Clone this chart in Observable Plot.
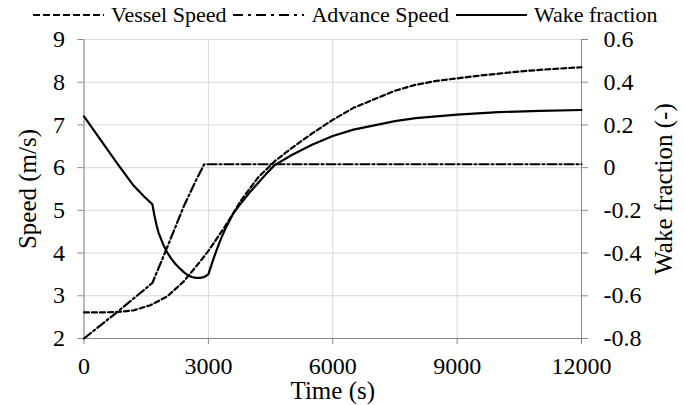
<!DOCTYPE html>
<html><head><meta charset="utf-8">
<script src="https://cdn.jsdelivr.net/npm/d3@7"></script>
<script src="https://cdn.jsdelivr.net/npm/@observablehq/plot@0.6"></script>
<style>
body{margin:0;background:#fff}
#wrap{position:relative;width:684px;height:405px}
#legend{position:absolute;left:33px;top:0px;height:30px;display:flex;align-items:center;font-family:"Liberation Serif",serif;font-size:22px;color:#000;white-space:nowrap}
#legend svg{margin-right:7px}
#legend span{margin-right:7px;font-family:"Liberation Serif",serif}
</style></head><body><div id="wrap"><div id="legend"></div></div>
<script>
// ---- data ----
const vesselTime  = [0, 400, 800, 1200, 1600, 2000, 2400, 2800, 3000, 3400, 3800, 4200, 4600, 5000, 5500, 6000, 6500, 7000, 7500, 8000, 8500, 9000, 9500, 10000, 10500, 11000, 11500, 12000];
const vesselSpeed = [2.61, 2.61, 2.62, 2.66, 2.78, 2.98, 3.33, 3.80, 4.05, 4.62, 5.25, 5.77, 6.15, 6.45, 6.80, 7.12, 7.40, 7.60, 7.80, 7.94, 8.03, 8.09, 8.15, 8.20, 8.25, 8.29, 8.32, 8.35];
const advanceTime  = [0, 800, 1650, 2000, 2400, 2700, 2900, 12000];
const advanceSpeed = [2.0, 2.62, 3.30, 4.12, 5.08, 5.70, 6.08, 6.08];
const wakeTime = [0, 400, 800, 1200, 1450, 1650, 1700, 1750, 1800, 1900, 2000, 2100, 2200, 2300, 2400, 2500, 2600, 2700, 2800, 2900, 3000, 3100, 3200, 3300, 3400, 3600, 3800, 4000, 4200, 4400, 4600, 5000, 5500, 6000, 6500, 7000, 7500, 8000, 9000, 10000, 11000, 12000];
const wakeFraction = [0.24, 0.13, 0.02, -0.085, -0.135, -0.172, -0.225, -0.27, -0.305, -0.355, -0.395, -0.425, -0.45, -0.47, -0.488, -0.503, -0.512, -0.516, -0.516, -0.512, -0.50, -0.44, -0.385, -0.335, -0.29, -0.215, -0.163, -0.115, -0.072, -0.028, 0.012, 0.058, 0.107, 0.148, 0.178, 0.198, 0.218, 0.232, 0.248, 0.26, 0.266, 0.27];
const timeTicks  = [0, 3000, 6000, 9000, 12000];
const speedTicks = [2, 3, 4, 5, 6, 7, 8, 9];
const wakeTicks  = [-0.8, -0.6, -0.4, -0.2, 0, 0.2, 0.4, 0.6];
const seriesNames = ["Vessel Speed", "Advance Speed", "Wake fraction"];
const axisTitles = {x: "Time (s)", yLeft: "Speed (m/s)", yRight: "Wake fraction (-)"};

// map wake fraction (right axis) onto the speed scale (left axis)
const wakeToSpeed = w => speedTicks[0] + (w - wakeTicks[0]) * (speedTicks.length - 1) / (wakeTicks[wakeTicks.length-1] - wakeTicks[0]);
const fmtWake = w => (Math.abs(w) < 1e-9 ? "0" : (w < 0 ? "-" : "") + Math.abs(w).toFixed(1));

const vessel = vesselTime.map((t, i) => ({t, v: vesselSpeed[i]}));
const advance = advanceTime.map((t, i) => ({t, v: advanceSpeed[i]}));
const wake = wakeTime.map((t, i) => ({t, v: wakeToSpeed(wakeFraction[i])}));

const styles = [
  {dash: "5,3", legendDash: "7,3"},
  {dash: "9,3,2,3", legendDash: "10,5,3,5"},
  {dash: null, legendDash: null}
];
const FONT = "'Liberation Serif', 'Times New Roman', serif";
const axisColor = "#878787";
const gridColor = "#d9d9d9";
const tickFont = 24;

const plot = Plot.plot({
  width: 684, height: 405,
  marginLeft: 83.5, marginRight: 103, marginTop: 39, marginBottom: 67,
  style: {fontFamily: FONT, fontSize: tickFont + "px", background: "transparent", color: "#000", overflow: "visible"},
  x: {domain: [0, 12000]},
  y: {domain: [2, 9]},
  marks: [
    Plot.gridX(timeTicks, {stroke: gridColor, strokeOpacity: 1}),
    Plot.gridY(speedTicks, {stroke: gridColor, strokeOpacity: 1}),
    Plot.axisX(timeTicks, {anchor: "bottom", tickSize: 6, tickPadding: 12, stroke: axisColor, fill: "#000", fontSize: tickFont, label: null, tickFormat: d => String(d)}),
    Plot.axisY(speedTicks, {anchor: "left", tickSize: 6, tickPadding: 13, stroke: axisColor, fill: "#000", fontSize: tickFont, label: null, tickFormat: d => String(d)}),
    Plot.axisY(speedTicks, {anchor: "right", tickSize: 6, tickPadding: 16, stroke: axisColor, fill: "#000", fontSize: tickFont, label: null, tickFormat: (d, i) => fmtWake(wakeTicks[i])}),
    Plot.ruleX([0, 12000], {stroke: axisColor}),
    Plot.ruleY([2], {stroke: axisColor}),
    Plot.line(vessel, {x: "t", y: "v", stroke: "#000", strokeWidth: 2.2, strokeDasharray: styles[0].dash}),
    Plot.line(advance, {x: "t", y: "v", stroke: "#000", strokeWidth: 2.2, strokeDasharray: styles[1].dash}),
    Plot.line(wake, {x: "t", y: "v", stroke: "#000", strokeWidth: 2.2}),
    Plot.text([axisTitles.x], {frameAnchor: "bottom", dy: 60, fontSize: 25, fill: "#000"}),
    Plot.text([axisTitles.yLeft], {frameAnchor: "left", dx: -56, rotate: -90, textAnchor: "middle", fontSize: 25, fill: "#000"}),
    Plot.text([axisTitles.yRight], {frameAnchor: "right", dx: 82, rotate: -90, textAnchor: "middle", fontSize: 25, fill: "#000"})
  ]
});
d3.select(plot).selectAll("text").attr("font-family", FONT).style("font-family", FONT);
document.getElementById("wrap").appendChild(plot);

// legend
const legend = document.getElementById("legend");
seriesNames.forEach((name, i) => {
  const svg = d3.create("svg").attr("width", 71).attr("height", 10);
  svg.append("line").attr("x1", 0).attr("x2", 71).attr("y1", 5).attr("y2", 5)
    .attr("stroke", "#000").attr("stroke-width", 2.2)
    .attr("stroke-dasharray", styles[i].legendDash);
  legend.appendChild(svg.node());
  const s = document.createElement("span");
  s.textContent = name;
  s.style.fontFamily = FONT;
  legend.appendChild(s);
});
</script>
</body></html>
